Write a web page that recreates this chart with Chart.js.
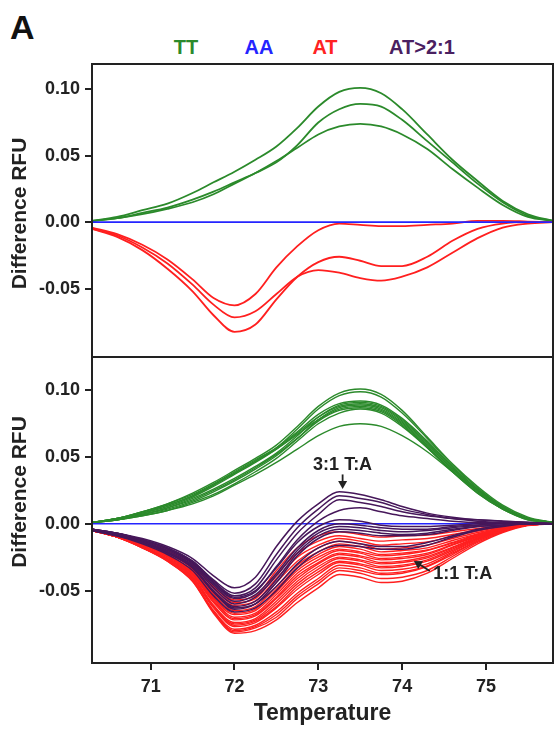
<!DOCTYPE html>
<html>
<head>
<meta charset="utf-8">
<script src="https://cdn.jsdelivr.net/npm/chart.js@4.4.1/dist/chart.umd.min.js"></script>
<style>
  body { margin: 0; background: #fff; }
  .page { position: relative; width: 556px; height: 735px; overflow: hidden; font-family: "Liberation Sans", Arial, sans-serif; }
  .page canvas { position: absolute; left: 0; }
  .tag { position: absolute; left: 10px; top: 10px; font-size: 34px; font-weight: bold; line-height: 1; color: #111; }
  .key { position: absolute; top: 37px; font-size: 20px; font-weight: bold; line-height: 1; transform: translateX(-50%); white-space: nowrap; }
</style>
</head>
<body>
<div class="page">
  <div class="tag">A</div>
  <div class="key" style="left:186px;color:#2b8a2b">TT</div>
  <div class="key" style="left:259px;color:#2424ff">AA</div>
  <div class="key" style="left:325px;color:#ff2222">AT</div>
  <div class="key" style="left:422px;color:#4a2060">AT&gt;2:1</div>
  <canvas id="topChart" width="556" height="359" style="top:0"></canvas>
  <canvas id="bottomChart" width="556" height="379" style="top:356px"></canvas>
</div>
<script>
// temperature grid shared by every curve
const temps = [70.3, 70.6, 70.9, 71.2, 71.5, 71.75, 72.0, 72.25, 72.5, 72.75, 73.0, 73.25, 73.5, 73.75, 74.0, 74.3, 74.6, 74.9, 75.2, 75.5, 75.8];
const xTicks = [71, 72, 73, 74, 75];
const yTicks = [-0.05, 0, 0.05, 0.10];

// upper panel
const topTT = [
  [0.001, 0.004, 0.009, 0.014, 0.022, 0.030, 0.038, 0.047, 0.057, 0.071, 0.087, 0.098, 0.101, 0.097, 0.085, 0.066, 0.047, 0.031, 0.016, 0.006, 0.001],
  [0.001, 0.003, 0.007, 0.011, 0.017, 0.023, 0.030, 0.037, 0.045, 0.058, 0.075, 0.085, 0.089, 0.087, 0.077, 0.061, 0.045, 0.029, 0.015, 0.005, 0.001],
  [0.001, 0.003, 0.006, 0.010, 0.015, 0.021, 0.029, 0.037, 0.046, 0.056, 0.066, 0.072, 0.074, 0.072, 0.066, 0.055, 0.040, 0.026, 0.013, 0.004, 0.001]
];
const topAA = [
  [0, 0, 0, 0, 0, 0, 0, 0, 0, 0, 0, 0, 0, 0, 0, 0, 0, 0, 0, 0, 0]
];
const topAT = [
  [-0.004, -0.009, -0.017, -0.028, -0.043, -0.057, -0.0625, -0.054, -0.034, -0.018, -0.006, -0.001, -0.002, -0.003, -0.003, -0.002, -0.001, 0.001, 0.001, 0.0005, 0],
  [-0.005, -0.010, -0.019, -0.031, -0.047, -0.062, -0.0716, -0.067, -0.054, -0.041, -0.036, -0.038, -0.042, -0.044, -0.041, -0.034, -0.023, -0.012, -0.004, -0.001, 0],
  [-0.005, -0.011, -0.021, -0.035, -0.052, -0.070, -0.0825, -0.077, -0.058, -0.041, -0.030, -0.026, -0.029, -0.033, -0.033, -0.026, -0.014, -0.005, -0.001, 0, 0]
];

// lower panel
const bottomTT = [
  [0.001, 0.004, 0.009, 0.015, 0.023, 0.031, 0.040, 0.049, 0.059, 0.073, 0.088, 0.098, 0.101, 0.097, 0.085, 0.065, 0.045, 0.028, 0.014, 0.005, 0.001],
  [0.001, 0.004, 0.008, 0.014, 0.021, 0.029, 0.038, 0.047, 0.057, 0.071, 0.086, 0.096, 0.099, 0.095, 0.083, 0.064, 0.044, 0.027, 0.013, 0.004, 0.001],
  [0.001, 0.004, 0.009, 0.015, 0.022, 0.030, 0.039, 0.048, 0.057, 0.069, 0.082, 0.090, 0.092, 0.089, 0.079, 0.062, 0.043, 0.026, 0.013, 0.004, 0.001],
  [0.001, 0.003, 0.007, 0.012, 0.019, 0.026, 0.034, 0.043, 0.053, 0.066, 0.080, 0.089, 0.091, 0.088, 0.078, 0.061, 0.042, 0.026, 0.012, 0.004, 0.001],
  [0.001, 0.004, 0.008, 0.013, 0.020, 0.028, 0.037, 0.046, 0.056, 0.068, 0.080, 0.088, 0.090, 0.087, 0.077, 0.060, 0.041, 0.025, 0.012, 0.004, 0.001],
  [0.001, 0.003, 0.007, 0.011, 0.017, 0.024, 0.032, 0.041, 0.051, 0.064, 0.078, 0.087, 0.089, 0.086, 0.076, 0.059, 0.041, 0.025, 0.012, 0.004, 0.001],
  [0.001, 0.004, 0.009, 0.014, 0.021, 0.029, 0.038, 0.047, 0.056, 0.067, 0.078, 0.086, 0.088, 0.085, 0.075, 0.058, 0.040, 0.024, 0.011, 0.004, 0.001],
  [0.001, 0.003, 0.007, 0.012, 0.018, 0.025, 0.033, 0.042, 0.052, 0.064, 0.077, 0.085, 0.087, 0.084, 0.074, 0.057, 0.039, 0.023, 0.011, 0.003, 0.001],
  [0.001, 0.003, 0.006, 0.010, 0.016, 0.022, 0.030, 0.039, 0.049, 0.062, 0.075, 0.083, 0.086, 0.083, 0.073, 0.057, 0.039, 0.023, 0.011, 0.003, 0.001],
  [0.001, 0.003, 0.006, 0.010, 0.015, 0.021, 0.029, 0.037, 0.046, 0.056, 0.066, 0.073, 0.075, 0.073, 0.066, 0.054, 0.039, 0.025, 0.012, 0.004, 0.001]
];
const bottomAA = [
  [0, 0, 0, 0, 0, 0, 0, 0, 0, 0, 0, 0, 0, 0, 0, 0, 0, 0, 0, 0, 0]
];
const bottomAT = [
  [-0.004, -0.008, -0.0125, -0.019, -0.030, -0.047, -0.057, -0.054, -0.035, -0.018, -0.009, -0.006, -0.008, -0.010, -0.009, -0.0085, -0.006, -0.0035, -0.0015, 0, 0],
  [-0.004, -0.008, -0.013, -0.020, -0.031, -0.048, -0.059, -0.056, -0.038, -0.022, -0.013, -0.009, -0.011, -0.013, -0.012, -0.011, -0.008, -0.0045, -0.002, 0, 0],
  [-0.004, -0.008, -0.013, -0.021, -0.032, -0.050, -0.061, -0.058, -0.041, -0.025, -0.016, -0.011, -0.013, -0.016, -0.015, -0.0135, -0.0095, -0.0055, -0.0025, -0.0005, 0],
  [-0.004, -0.009, -0.014, -0.021, -0.033, -0.052, -0.063, -0.060, -0.044, -0.028, -0.018, -0.013, -0.015, -0.019, -0.018, -0.016, -0.011, -0.0065, -0.003, -0.0005, 0],
  [-0.004, -0.009, -0.014, -0.022, -0.034, -0.053, -0.065, -0.062, -0.047, -0.031, -0.021, -0.015, -0.017, -0.021, -0.020, -0.018, -0.0125, -0.0075, -0.003, -0.0005, 0],
  [-0.004, -0.009, -0.015, -0.023, -0.036, -0.055, -0.067, -0.064, -0.049, -0.033, -0.023, -0.017, -0.019, -0.023, -0.022, -0.0195, -0.014, -0.008, -0.0035, -0.0007, 0],
  [-0.005, -0.009, -0.015, -0.023, -0.036, -0.056, -0.068, -0.065, -0.051, -0.035, -0.025, -0.019, -0.021, -0.024, -0.023, -0.020, -0.0145, -0.0085, -0.0035, -0.0007, 0],
  [-0.005, -0.009, -0.015, -0.024, -0.037, -0.057, -0.070, -0.067, -0.053, -0.037, -0.027, -0.020, -0.022, -0.026, -0.025, -0.022, -0.0155, -0.009, -0.004, -0.0008, 0],
  [-0.005, -0.009, -0.016, -0.024, -0.038, -0.058, -0.071, -0.068, -0.055, -0.039, -0.029, -0.022, -0.024, -0.027, -0.026, -0.023, -0.016, -0.0095, -0.004, -0.0008, 0],
  [-0.005, -0.010, -0.016, -0.024, -0.038, -0.059, -0.072, -0.069, -0.056, -0.041, -0.030, -0.023, -0.025, -0.029, -0.028, -0.0245, -0.0175, -0.010, -0.0045, -0.0009, 0],
  [-0.005, -0.010, -0.016, -0.025, -0.039, -0.061, -0.074, -0.071, -0.058, -0.043, -0.032, -0.025, -0.027, -0.030, -0.029, -0.0255, -0.018, -0.0105, -0.0045, -0.0009, 0],
  [-0.005, -0.010, -0.017, -0.026, -0.040, -0.062, -0.075, -0.072, -0.060, -0.045, -0.034, -0.026, -0.028, -0.032, -0.031, -0.027, -0.019, -0.011, -0.005, -0.001, 0],
  [-0.005, -0.010, -0.017, -0.026, -0.040, -0.062, -0.076, -0.073, -0.062, -0.047, -0.036, -0.028, -0.030, -0.033, -0.032, -0.028, -0.020, -0.0115, -0.005, -0.001, 0],
  [-0.005, -0.010, -0.017, -0.026, -0.041, -0.063, -0.077, -0.074, -0.063, -0.049, -0.038, -0.029, -0.031, -0.035, -0.034, -0.030, -0.021, -0.012, -0.005, -0.001, 0],
  [-0.005, -0.010, -0.017, -0.027, -0.042, -0.065, -0.079, -0.076, -0.066, -0.052, -0.041, -0.031, -0.033, -0.037, -0.036, -0.0315, -0.022, -0.013, -0.0055, -0.001, 0],
  [-0.005, -0.010, -0.018, -0.027, -0.042, -0.066, -0.080, -0.077, -0.068, -0.054, -0.043, -0.033, -0.035, -0.038, -0.037, -0.032, -0.023, -0.013, -0.0055, -0.001, 0],
  [-0.005, -0.010, -0.018, -0.028, -0.043, -0.066, -0.081, -0.078, -0.070, -0.056, -0.045, -0.035, -0.037, -0.041, -0.040, -0.035, -0.0245, -0.014, -0.006, -0.001, 0],
  [-0.005, -0.010, -0.018, -0.028, -0.043, -0.067, -0.082, -0.080, -0.072, -0.059, -0.048, -0.038, -0.040, -0.044, -0.043, -0.037, -0.026, -0.015, -0.0065, -0.0013, 0]
];
const bottomATmix = [
  [-0.004, -0.007, -0.011, -0.017, -0.026, -0.039, -0.048, -0.040, -0.017, 0.002, 0.015, 0.024, 0.022, 0.018, 0.013, 0.008, 0.005, 0.003, 0.002, 0.001, 0],
  [-0.004, -0.007, -0.012, -0.018, -0.028, -0.042, -0.052, -0.045, -0.023, -0.003, 0.011, 0.021, 0.019, 0.016, 0.011, 0.007, 0.004, 0.003, 0.002, 0.001, 0],
  [-0.004, -0.007, -0.012, -0.018, -0.028, -0.043, -0.054, -0.048, -0.027, -0.007, 0.007, 0.018, 0.016, 0.013, 0.009, 0.006, 0.004, 0.002, 0.001, 0.001, 0],
  [-0.004, -0.008, -0.012, -0.019, -0.029, -0.045, -0.056, -0.051, -0.032, -0.012, 0.002, 0.010, 0.012, 0.009, 0.006, 0.004, 0.002, 0.001, 0.001, 0, 0],
  [-0.004, -0.007, -0.012, -0.019, -0.029, -0.044, -0.055, -0.050, -0.033, -0.014, -0.002, 0.003, 0.002, -0.001, -0.002, -0.002, -0.001, 0, 0.001, 0.001, 0],
  [-0.004, -0.008, -0.013, -0.020, -0.030, -0.046, -0.058, -0.053, -0.037, -0.018, -0.005, 0, -0.001, -0.003, -0.004, -0.004, -0.002, -0.001, 0, 0, 0],
  [-0.004, -0.008, -0.013, -0.021, -0.031, -0.048, -0.060, -0.055, -0.039, -0.020, -0.007, -0.002, -0.003, -0.005, -0.006, -0.005, -0.003, -0.001, 0, 0, 0],
  [-0.005, -0.008, -0.014, -0.021, -0.032, -0.050, -0.062, -0.058, -0.042, -0.022, -0.009, -0.004, -0.005, -0.007, -0.008, -0.007, -0.004, -0.002, -0.001, 0, 0],
  [-0.005, -0.009, -0.014, -0.022, -0.033, -0.051, -0.064, -0.060, -0.044, -0.024, -0.011, -0.006, -0.007, -0.009, -0.009, -0.008, -0.005, -0.002, -0.001, 0, 0],
  [-0.005, -0.009, -0.014, -0.022, -0.033, -0.051, -0.063, -0.060, -0.047, -0.030, -0.018, -0.013, -0.015, -0.017, -0.017, -0.014, -0.009, -0.004, -0.001, 0, 0],
  [-0.005, -0.009, -0.015, -0.023, -0.035, -0.054, -0.066, -0.063, -0.050, -0.033, -0.021, -0.016, -0.017, -0.019, -0.019, -0.016, -0.010, -0.005, -0.002, 0, 0]
];

const colors = { TT: '#2b8a2b', AA: '#2424ff', AT: '#ff1f1f', mix: '#46175a' };
const ink = '#222';
const family = '"Liberation Sans", Arial, sans-serif';

Chart.defaults.font.family = family;
Chart.defaults.color = ink;

const toPoints = (vals) => vals.map((v, i) => ({ x: temps[i], y: v }));

// lower "order" is painted on top
const group = (list, color, order, width) => list.map((vals) => ({
  data: toPoints(vals),
  borderColor: color,
  borderWidth: width,
  order,
  pointRadius: 0,
  fill: false,
  cubicInterpolationMode: 'monotone'
}));

const framePlugin = {
  id: 'frame',
  afterDraw(chart) {
    const { ctx, chartArea: a } = chart;
    ctx.save();
    ctx.strokeStyle = ink;
    ctx.lineWidth = 2;
    ctx.strokeRect(a.left, a.top, a.right - a.left, a.bottom - a.top);
    ctx.restore();
  }
};

const sideTitlePlugin = {
  id: 'sideTitle',
  afterDraw(chart, args, opts) {
    const { ctx, chartArea: a } = chart;
    ctx.save();
    ctx.translate(opts.x, (a.top + a.bottom) / 2 + opts.shift);
    ctx.rotate(-Math.PI / 2);
    ctx.font = `bold 21px ${family}`;
    ctx.fillStyle = ink;
    ctx.textAlign = 'center';
    ctx.textBaseline = 'middle';
    ctx.fillText(opts.text, 0, 0);
    ctx.restore();
  }
};

const notesPlugin = {
  id: 'notes',
  afterDatasetsDraw(chart, args, opts) {
    if (!opts.items) return;
    const { ctx, scales: { x, y } } = chart;
    ctx.save();
    ctx.font = `bold 18px ${family}`;
    ctx.fillStyle = ink;
    ctx.strokeStyle = ink;
    ctx.lineWidth = 1.8;
    opts.items.forEach((n) => {
      ctx.textAlign = n.align;
      ctx.textBaseline = 'middle';
      ctx.fillText(n.text, x.getPixelForValue(n.at[0]), y.getPixelForValue(n.at[1]));
      const x0 = x.getPixelForValue(n.from[0]);
      const y0 = y.getPixelForValue(n.from[1]);
      const x1 = x.getPixelForValue(n.to[0]);
      const y1 = y.getPixelForValue(n.to[1]);
      const ang = Math.atan2(y1 - y0, x1 - x0);
      ctx.beginPath();
      ctx.moveTo(x0, y0);
      ctx.lineTo(x1 - Math.cos(ang) * 5, y1 - Math.sin(ang) * 5);
      ctx.stroke();
      ctx.beginPath();
      ctx.moveTo(x1, y1);
      ctx.lineTo(x1 - Math.cos(ang) * 8 - Math.sin(ang) * 4.5, y1 - Math.sin(ang) * 8 + Math.cos(ang) * 4.5);
      ctx.lineTo(x1 - Math.cos(ang) * 8 + Math.sin(ang) * 4.5, y1 - Math.sin(ang) * 8 - Math.cos(ang) * 4.5);
      ctx.closePath();
      ctx.fill();
    });
    ctx.restore();
  }
};

const tickFont = { size: 18, weight: 'bold' };

const yAxis = (min, max) => ({
  type: 'linear',
  min,
  max,
  afterFit: (s) => {
    s.width = 92;
    // ticks never sit on the panel edges, so no label overhang is needed
    s.paddingTop = 0;
    s.paddingBottom = 0;
  },
  afterBuildTicks: (s) => { s.ticks = yTicks.map((v) => ({ value: v })); },
  grid: { drawOnChartArea: false, drawTicks: true, tickLength: 7, color: ink, lineWidth: 2 },
  border: { display: false },
  ticks: {
    font: tickFont,
    color: ink,
    padding: 5,
    callback: (v) => (Math.abs(v) < 1e-9 ? 0 : v).toFixed(2)
  }
});

const xAxis = (show) => ({
  type: 'linear',
  min: 70.3,
  max: 75.8,
  display: show,
  afterFit: (s) => { s.height = show ? 72 : 0; },
  afterBuildTicks: (s) => { s.ticks = xTicks.map((v) => ({ value: v })); },
  grid: { drawOnChartArea: false, drawTicks: true, tickLength: 7, color: ink, lineWidth: 2 },
  border: { display: false },
  ticks: { font: tickFont, color: ink, padding: 6, maxRotation: 0, autoSkip: false, callback: (v) => String(v) },
  title: { display: true, text: 'Temperature', color: ink, font: { size: 23, weight: 'bold' }, padding: { top: 0, bottom: 8 } }
});

new Chart(document.getElementById('topChart'), {
  type: 'line',
  data: {
    datasets: [
      ...group(topTT, colors.TT, 3, 1.8),
      ...group(topAT, colors.AT, 2, 1.8),
      ...group(topAA, colors.AA, 1, 1.8)
    ]
  },
  options: {
    responsive: false,
    animation: false,
    layout: { padding: { left: 0, top: 64, right: 3, bottom: 2 } },
    scales: { x: xAxis(false), y: yAxis(-0.1014, 0.119) },
    plugins: {
      legend: { display: false },
      tooltip: { enabled: false },
      sideTitle: { text: 'Difference RFU', x: 20, shift: 3 }
    }
  },
  plugins: [framePlugin, sideTitlePlugin, notesPlugin]
});

new Chart(document.getElementById('bottomChart'), {
  type: 'line',
  data: {
    datasets: [
      ...group(bottomTT, colors.TT, 3, 1.4),
      ...group(bottomAT, colors.AT, 2, 1.4),
      ...group(bottomAA, colors.AA, 1, 1.6),
      ...group(bottomATmix, colors.mix, 0, 1.5)
    ]
  },
  options: {
    responsive: false,
    animation: false,
    layout: { padding: { left: 0, top: 1, right: 3, bottom: 0 } },
    scales: { x: xAxis(true), y: yAxis(-0.1043, 0.125) },
    plugins: {
      legend: { display: false },
      tooltip: { enabled: false },
      sideTitle: { text: 'Difference RFU', x: 20, shift: -18 },
      notes: {
        items: [
          { text: '3:1 T:A', align: 'center', at: [73.29, 0.0443], from: [73.29, 0.037], to: [73.29, 0.026] },
          { text: '1:1 T:A', align: 'left', at: [74.37, -0.0375], from: [74.33, -0.0353], to: [74.14, -0.0278] }
        ]
      }
    }
  },
  plugins: [framePlugin, sideTitlePlugin, notesPlugin]
});
</script>
</body>
</html>
